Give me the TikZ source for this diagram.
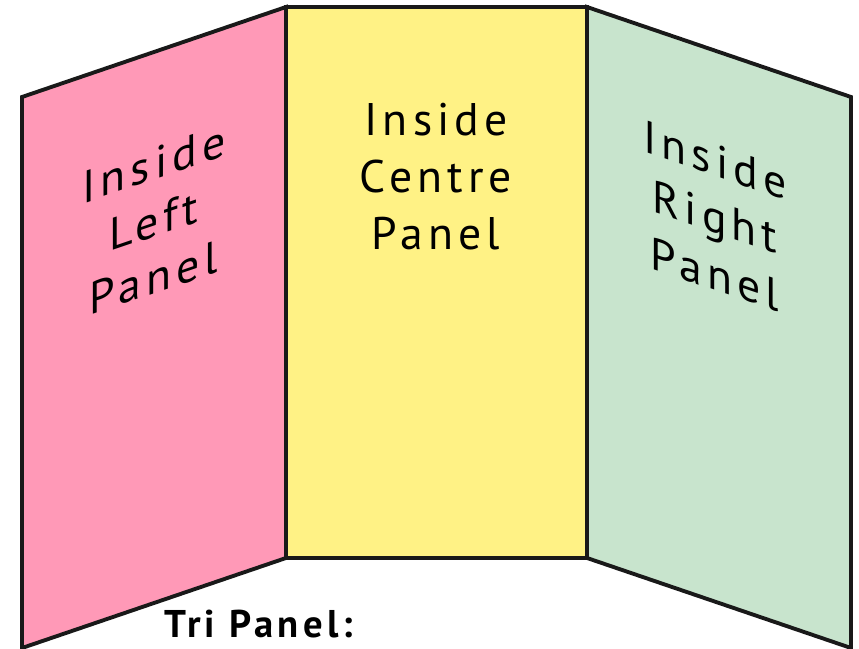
\documentclass[tikz,border=0pt]{standalone}
\usepackage{fontspec}
\setmainfont{PT Sans}
\newfontfamily\panelfont[LetterSpace=11]{PT Sans}
\definecolor{panelpink}{RGB}{255,153,183}
\definecolor{panelyellow}{RGB}{255,242,133}
\definecolor{panelgreen}{RGB}{200,228,205}

\begin{document}
\begin{tikzpicture}[
    x=0.02cm, y=0.02cm,
    % Estilos
    panel/.style={draw=black!90, line width=2.2pt, line join=miter},
    panel text/.style={font=\panelfont\fontsize{26}{32.5}\selectfont, align=center, inner sep=0pt},
    title text/.style={font=\panelfont\bfseries\fontsize{22}{26}\selectfont, inner sep=0pt}
]
    \useasboundingbox (0,0) rectangle (859,649);

    % =========================================================================
    % 1. Esquinas de los paneles
    % =========================================================================
    \coordinate (lt) at (22,552);  % izquierda arriba
    \coordinate (lb) at (22,1);    % izquierda abajo
    \coordinate (ct) at (286,642); % pliegue izquierdo arriba
    \coordinate (cb) at (286,91);  % pliegue izquierdo abajo
    \coordinate (dt) at (587,642); % pliegue derecho arriba
    \coordinate (db) at (587,91);  % pliegue derecho abajo
    \coordinate (rt) at (851,552); % derecha arriba
    \coordinate (rb) at (851,1);   % derecha abajo

    % =========================================================================
    % 2. Paneles
    % =========================================================================
    \draw[panel, fill=panelpink] (lt) -- (ct) -- (cb) -- (lb) -- cycle;
    \draw[panel, fill=panelyellow] (ct) -- (dt) -- (db) -- (cb) -- cycle;
    \draw[panel, fill=panelgreen] (dt) -- (rt) -- (rb) -- (db) -- cycle;

    % =========================================================================
    % 3. Textos
    % =========================================================================
    \node[panel text, yslant=0.34] (leftlabel) at (154,428) {Inside\\Left\\Panel};
    \node[panel text] (centrelabel) at (436,472) {Inside\\Centre\\Panel};
    \node[panel text, yslant=-0.34] (rightlabel) at (715,432) {Inside\\Right\\Panel};

    \node[title text] (title) at (259,25) {Tri Panel:};

\end{tikzpicture}
\end{document}
